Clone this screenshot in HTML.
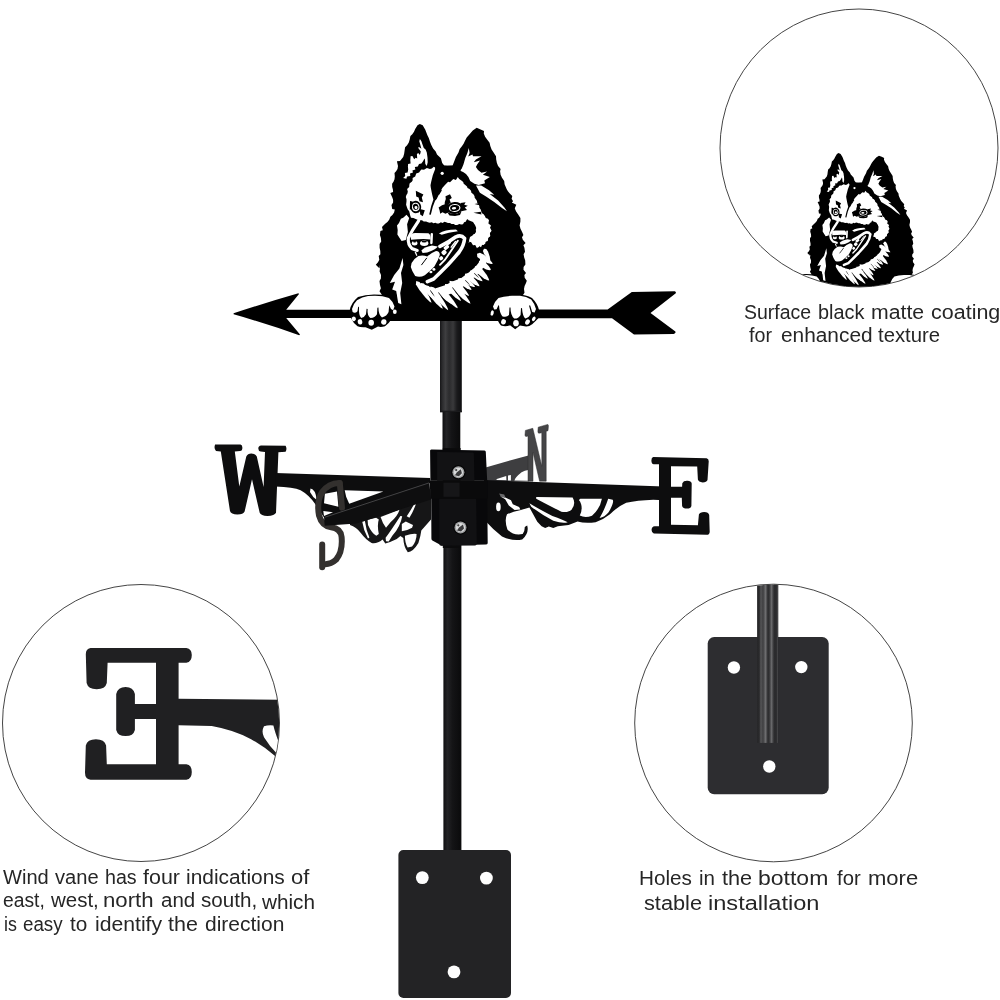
<!DOCTYPE html>
<html><head><meta charset="utf-8">
<style>
html,body{margin:0;padding:0;background:#fff;}
body{width:1000px;height:1000px;overflow:hidden;position:relative;font-family:"Liberation Sans",sans-serif;}
svg{position:absolute;left:0;top:0;}
.t{position:absolute;white-space:nowrap;color:#262626;filter:grayscale(1);font-size:20px;line-height:23px;transform-origin:0 0;}
</style></head><body>
<svg width="1000" height="1000" viewBox="0 0 1000 1000">
<defs>
<linearGradient id="pole" x1="0" x2="1" y1="0" y2="0">
<stop offset="0" stop-color="#0e0e10"/><stop offset="0.22" stop-color="#232325"/><stop offset="0.5" stop-color="#141416"/><stop offset="1" stop-color="#0a0a0b"/>
</linearGradient>
<clipPath id="cTR"><circle cx="859" cy="148" r="138.6"/></clipPath>
<clipPath id="cL"><circle cx="141" cy="723" r="138.2"/></clipPath>
<clipPath id="cR"><circle cx="773.5" cy="723" r="138.4"/></clipPath>
<linearGradient id="pole2" x1="0" x2="1" y1="0" y2="0">
<stop offset="0" stop-color="#262628"/><stop offset="0.1" stop-color="#2a2a2c"/><stop offset="0.18" stop-color="#555557"/><stop offset="0.28" stop-color="#3e3e40"/><stop offset="0.4" stop-color="#6e6e70"/><stop offset="0.5" stop-color="#303032"/><stop offset="0.56" stop-color="#2e2e30"/><stop offset="0.68" stop-color="#68686a"/><stop offset="0.8" stop-color="#2c2c2e"/><stop offset="0.91" stop-color="#2a2a2c"/><stop offset="0.95" stop-color="#4a4a4c"/><stop offset="1" stop-color="#2a2a2c"/>
</linearGradient>
<linearGradient id="poleU" x1="0" x2="1" y1="0" y2="0">
<stop offset="0" stop-color="#151517"/><stop offset="0.1" stop-color="#2a2a2c"/><stop offset="0.25" stop-color="#3e3e40"/><stop offset="0.42" stop-color="#2b2b2d"/><stop offset="0.6" stop-color="#39393b"/><stop offset="0.78" stop-color="#1a1a1c"/><stop offset="1" stop-color="#0e0e10"/>
</linearGradient>
</defs>
<g fill="none" stroke="#303030" stroke-width="0.9">
<circle cx="859" cy="148" r="139"/>
<circle cx="141" cy="723" r="138.5"/>
<circle cx="773.5" cy="723" r="138.8"/>
</g>
<g id="pole-g">
<rect x="443.4" y="540" width="18" height="312" fill="url(#pole)"/>
<rect x="440" y="320.5" width="21.8" height="91.7" fill="url(#poleU)"/>
<rect x="440" y="410.7" width="21.8" height="1.5" fill="#1a1a1c"/>
<rect x="442.5" y="412" width="17.8" height="40" fill="url(#pole)"/>
<rect x="398.4" y="850" width="112.6" height="148" rx="5" fill="#232325"/>
<circle cx="422.3" cy="877.6" r="6.4" fill="#fdfdfd"/><circle cx="486.4" cy="878.1" r="6.4" fill="#fdfdfd"/><circle cx="454" cy="971.9" r="6.4" fill="#fdfdfd"/>
</g>
<g id="N">
<path fill="#3e3e40" d="M485.6 467.4L528.4 455.4L528.4 481.4L485.6 481.4Z"/>
<path fill="#fff" d="M496.4 480L496.8 479L506.2 476.1L506.4 480.3ZM508 475.6L510.9 475L510.9 480.4L508 480.4ZM514.4 480.4Q515.6 477 521.6 472.3Q524.8 470.6 528.2 470L528.2 480.8Z"/>
<path fill="#454547" stroke="#2c2c2e" stroke-width="0.5" d="M525.4 430.4L532.8 428.3L541.8 466.2L541.8 432.8L538.9 433.2Q537.8 433.1 537.9 431.4L538.2 427.2L547.8 424.4Q548.5 424.8 548.4 426.2L548 430.7L546.2 431.2L546.2 481.2L539.6 481.2L533 452.6L533 481.2L528 481.2L528 436L526 436.6Q525 436.4 525 435Z"/>
</g>
<g id="WE" fill="#0d0d0e">
<path d="M215.1 444.4L240.5 444.4Q242.4 444.9 242.4 447.8Q242.4 450.9 240 451.1L234.8 451.6L239.3 486.6L246.3 456.4Q247.7 453.5 251.3 453.5Q255.4 453.5 256.8 456.4L263.6 487.1L265 452.1L260.7 451.6Q258.3 451.1 258.3 448.5Q258.3 445.6 261.2 445.4L285.6 445.8Q287.3 448.7 285.6 451.8L278.4 452.3L276 512.8Q274.6 515.9 267.4 515.9Q260.9 515.9 259.7 512.8L252 479.2L244.6 511.6Q243.4 514.5 237.4 514.5Q230.9 514.5 230 511.1L220.8 451.6L216 451.1Q213.6 448.2 215.1 444.4Z"/>
<path d="M275.4 472.9L430.2 478L430.2 483L324 517.6L315 503.7Q308.7 494.7 300.6 490.2Q293.4 487.5 275.4 486.6Z"/>
<path d="M484 480.1L664 486.6L664 500.2L653.2 499.7Q637 500.2 626.2 502.8Q617.2 506.9 610 514.3Q603.7 519.5 595.6 522.2Q584.8 523.5 577.6 521.5L568.6 524.9L557.8 526.2L553.3 528L548.8 526.5L545.2 528L541.6 526.2L537.3 521.8L529.4 507.4L520 510.3Q512.8 511.8 507 514.3Q504.2 520.4 507.4 529.4Q513.7 536.2 522.7 534.1Q525 531.2 524.7 526.9L527.2 525.4Q529.4 533 522.2 539.5Q512.8 541.6 502 536.6Q493 529.4 486.7 522.2L484 522.2Z"/>
<path d="M653.3 457L706.6 458.2Q709 459 708.7 461.8L707.5 480.1Q706.6 482.5 702.7 482.5Q698.4 482 697.9 479.6L697.2 466.6L671 466.2L671 486.8L682.1 486.8L682.3 483.2Q683.5 480.6 687.4 480.8Q691.2 481 691.7 483.4L691.4 506Q690.7 508.6 686.9 508.6Q683 508.6 682.1 506L681.8 497.8L671 497.8L671 524.7L697.9 525.2L698.9 514.6Q699.8 512 704.2 512Q708.5 512.2 709.2 515.1L709.7 531.9Q709.4 534.8 706.6 534.8L653.8 533.6Q651.4 532.9 651.6 529.5Q651.8 526.6 654.7 526.2L659 526.2L659 464.2L653.8 464.2Q651.4 463.8 651.4 460.4Q651.4 457.5 653.3 457Z"/>
</g>
<g fill="#fff">
<path d="M536.2 497L572.6 497.4Q576.2 503.3 571.8 509.2Q569 512.8 561.4 511.8Q547 504.6 536.2 498.8Z"/>
<path d="M580.3 498.8L601.9 498.8Q600.1 508.7 592 515.7Q584.8 518.2 579.8 515.4Q582.6 510 581.2 504.6Q580.3 501 578.9 499.9Z"/>
<path d="M608.2 498.8L612.7 499.7Q614.5 502.4 608.6 512.3Q604.6 517.2 599.6 518.1Q605 508.7 608.2 498.8Z"/>
<path d="M529.4 503.3Q538 508.7 552.4 515.9Q563.2 519.5 567.7 522.2Q563.2 524 553.3 520.8Q541.6 514.6 531.2 506.7Z"/>
<ellipse cx="498.4" cy="506.9" rx="2.3" ry="4.4"/>
<path d="M500.6 496.6L504.2 497L511 500.2L512.8 504.2L519.1 506.9L520.4 509.6L514.6 510L508.8 505.6L505.2 499.2Z"/>
<path d="M310.5 488.4Q315.4 488.8 316.8 500.1Q312.8 497.4 310 492Z"/>
<path d="M344.7 490.2L383.4 491.6L349.2 503.7Q345.6 497.4 344.7 490.2Z"/>
<path d="M324.9 493.8L337 491.6L338.4 506.8L324 503.2Z"/>
<path d="M323.3 511.1L333 512.2L324 516.1Z"/>
</g>
<path fill="#6a6a6c" d="M499.1 493.4L504.2 494.5L505.6 498.1L500.9 497Z"/>
<rect x="442.8" y="448" width="17.8" height="100" fill="#0b0b0c"/>
<g id="hub">
<path fill="#08080a" d="M430.1 450.7Q429.8 449.8 431.4 449.6L484.5 450.4Q485.8 450.7 485.8 452L487.2 480.8L430.4 480.8Z"/>
<path fill="#121214" d="M437.1 452L472.8 452.5Q473.9 452.8 473.9 453.9L474.4 480.8L437.1 480.8Z"/>
<path fill="#08080a" d="M431.2 496.8L487.2 496.8L487.7 543.2Q487.4 544.5 485.8 544.5L441.6 545.6L432.8 540.8Q431.4 540 431.4 538.4Z"/>
<path fill="#111113" d="M439.2 498.4L475.2 498.4Q476.2 498.7 476.2 500L476.8 544Q476.5 545.4 475.2 545.4L441 545.8Q439.4 545.4 439.4 544.2Z"/>
<path fill="#0a0a0b" d="M429.6 480.5L487.7 480.5L487.7 498.7L429.6 498.7Z"/>
<path fill="#161618" d="M443.5 482.7L459.5 482.7L459.5 496.8L443.5 496.8Z"/>
<circle cx="458.4" cy="472.3" r="7.2" fill="#050505"/>
<circle cx="458.4" cy="472.3" r="6" fill="#9fa0a2"/>
<circle cx="458.4" cy="472.3" r="4.6" fill="#d9dadb"/>
<path d="M456.9 472.3 l4 -3 l1 4 l-3 3 l-4 -1 z" fill="#3a3a3c"/>
<circle cx="456.2" cy="470.1" r="1.1" fill="#444"/>
<circle cx="460.5" cy="527.5" r="7.2" fill="#050505"/>
<circle cx="460.5" cy="527.5" r="6" fill="#9fa0a2"/>
<circle cx="460.5" cy="527.5" r="4.6" fill="#d9dadb"/>
<path d="M459.0 527.5 l4 -3 l1 4 l-3 3 l-4 -1 z" fill="#3a3a3c"/>
<circle cx="458.3" cy="525.3" r="1.1" fill="#444"/>
</g>
<g id="S">
<g fill="none" stroke="#33302e" stroke-width="6" stroke-linecap="round" stroke-linejoin="round">
<path d="M339.8 483L342 507.8"/>
<path d="M339.5 483Q328.5 483.4 322.2 492Q316.4 501 319 515.4Q321.8 525.8 331.2 527.3Q340.6 528.4 341.6 537Q342.9 551.4 336.2 559.5Q330.3 564.9 323.3 564"/>
<path d="M322.2 544.6L322.2 567.2"/>
</g>
<path fill="#161617" d="M350 509.7L350 525Q356.3 526.8 360.8 533.1Q366.2 540.3 371.6 543Q377 544.1 382.6 539.4L385.3 543.5L390.1 542.1L396.8 539L400.4 536L403.3 538.1Q403.6 547.1 407.8 552.2Q413 552 418.4 543Q420.7 535.8 421.3 530.4L431 519.6L431 489Z"/>
<g fill="#fff">
<path d="M362.2 521.4L364.9 521Q366.2 530.4 369.4 537.6L368 538.5Q363.5 530.4 362.2 521.4Z"/>
<path d="M367.6 519.8L376.1 517.8L378.8 519.6Q377 525 378.8 534L376.3 535.8Q371.6 533.1 368 525Z"/>
<path d="M380.6 517.1L399.5 509.7Q397.7 516 390.5 522.3L386 527.7Q382.4 523.2 380.6 517.1Z"/>
<path d="M385.6 537.8Q390.5 531.3 400.4 516L402.2 516.2Q400.4 526.8 392.3 535.8L388.7 541.4L386 541.2Z"/>
<path d="M401.8 524.1L405.8 521.4L413 525L412.1 527.7Q407.6 530.4 401.8 531.3Z"/>
<path d="M404.9 535.8Q413 533.1 416.6 534Q416.6 541.2 412.1 546.6L407.6 547.5Q404.9 543 404.9 535.8Z"/>
<path d="M406.7 516.2Q413 507 415.7 500.7L416.8 501.6Q413.9 510.6 409.4 517.8Z"/>
</g>
<path fill="#0e0e0f" d="M324 516.8 L429.2 482.2 L431 499.4 L367.6 520.1 L356.4 523.5 L324.7 525.8 Z"/>
<path fill="none" stroke="#5a5a5c" stroke-width="0.7" d="M325 517.2 L429 482.9"/>
</g>
<g id="arrow-g" fill="#000">
<path d="M233.6 313.3 Q268 302 298.4 293.3 L299 294 L286.2 309.7 L352 309.7 L352 317.9 L286.2 317.9 L300 334.6 L299.2 335.2 Q268 324 233.6 314.3 Z"/>
<path d="M536 309.6 L607.6 309.6 L631.8 292 L674.7 291.3 Q676.5 291.8 675.8 293.2 L650.5 313 L675.4 331.6 Q676 333.6 673.6 333.9 L634 334.6 L612 318.2 L536 318.2 Z"/>
</g>
<g id="dog">
<rect x="353" y="309.7" width="183" height="11.2" fill="#000"/>
<path fill="#000" d="M419.8 123.9 L422.7 125.2 L425.3 129.7 L427.3 134.9 L428.9 138.2 L429.9 141.4 L431.3 145.1 L433.1 148.6 L435.7 151.4 L437.0 154.4 L440.9 158.3 L442.2 162.9 L444.2 165.5 L447.4 165.8 L452.6 165.5 L453.9 162.2 L455.9 157.0 L458.5 152.5 L459.7 148.9 L461.7 146.6 L463.6 143.8 L465.0 140.8 L466.7 137.5 L468.9 134.9 L472.8 130.4 L476.7 127.8 L480.6 129.4 L484.0 131.1 L483.8 133.6 L485.1 136.7 L487.1 139.5 L489.6 142.7 L490.3 146.0 L491.6 149.4 L493.6 152.5 L496.0 156.2 L496.2 159.6 L496.9 162.9 L498.1 166.1 L500.6 168.9 L500.1 171.3 L500.6 174.7 L502.0 177.8 L504.2 181.1 L504.6 184.3 L506.6 188.9 L507.9 191.3 L509.8 193.4 L512.3 196.1 L511.6 198.7 L513.1 201.2 L511.8 202.5 L516.3 204.8 L515.0 207.7 L514.8 208.6 L516.1 211.6 L518.0 214.2 L520.4 218.0 L520.4 221.4 L519.6 225.4 L520.5 228.7 L522.0 231.8 L523.4 234.9 L522.0 237.2 L522.8 239.8 L525.6 243.1 L523.4 245.2 L524.4 247.8 L525.0 251.7 L523.6 254.2 L524.2 257.5 L525.2 260.6 L525.4 264.6 L523.6 267.0 L523.5 269.7 L526.0 273.0 L524.4 275.0 L524.7 277.7 L526.8 280.7 L526.0 283.0 L524.6 285.9 L524.0 289.0 L524.5 292.7 L523.0 295.0 L522.0 297.9 L522.0 301.0 L523.0 321.0 L381.0 321.0 L382.0 295.0 L379.5 291.2 L380.9 288.3 L380.0 285.0 L379.5 281.1 L380.9 278.4 L381.0 275.0 L379.6 271.5 L380.0 268.3 L379.0 265.0 L379.6 268.6 L375.8 264.7 L378.0 262.2 L379.3 259.7 L378.7 256.0 L380.4 254.2 L380.3 251.0 L379.6 247.8 L379.6 243.9 L381.2 241.4 L380.9 238.1 L379.9 235.0 L380.4 231.1 L382.8 230.2 L382.0 227.0 L385.2 223.8 L387.4 222.0 L389.2 219.8 L390.4 216.7 L392.4 215.0 L394.1 212.4 L394.8 209.4 L392.2 209.0 L391.5 205.0 L393.1 202.5 L393.1 199.8 L392.2 197.3 L390.3 193.0 L393.1 192.1 L392.9 189.5 L392.2 186.9 L392.1 183.7 L393.5 181.7 L394.5 179.2 L394.8 176.5 L394.5 173.1 L396.1 171.3 L397.5 168.9 L398.0 166.1 L396.9 161.3 L400.0 160.9 L403.2 157.0 L404.1 154.1 L404.5 151.2 L405.1 147.3 L407.1 145.3 L408.8 142.6 L409.7 139.5 L410.4 136.0 L412.3 134.3 L414.0 131.8 L415.2 129.1 L417.5 125.2 L419.8 123.9Z"/>
<path fill="#fff" d="M419.9 139.1L421.4 141.2L422.6 144.8L423.8 148.1L425.6 149.6L426.8 152.6L427.5 157.4L427.7 162.2L426.8 166.1L425.3 164L425 159.8L424.4 158.6L423.2 161L421.4 163.4L419 164L417.8 166.4L414.8 167L415.4 169.4L412.4 170.6L413 172.4L410 173.6L410.3 176L407 176.6L406.4 178.7L403.1 178.1L405.2 176L404.9 173L407.6 172.4L408.2 169.4L407.9 166.4L408.1 164L410.6 163.4L410.3 160.4L410.6 156.2L412.4 155.9L414.2 159.2L415.7 157.7L417.2 158.6L416.9 153.8L418.7 153.2L419.9 155L420.8 151.4L418.1 147.8L419 146.9L421.4 148.7L420.5 145.4L419.3 141.2Z"/>
<path fill="#fff" d="M468.8 148.1L469.6 153L468.2 156.6L472.4 154.4L473.1 156.2L481.5 156.2L475.9 159.4L473.8 162.2L480 160.4L477.3 164.3L475.9 167.1L478 169.9L481.5 172.7L487.1 171.5L482.9 174.8L489.9 176.9L484.3 180.4L485 183.2L478.7 184.9L474.4 183.8L470.2 181L468.4 177.1L466 174.1L463.1 172L460 170.8L461.8 168.4L463.5 164.2L465.3 157.9L467.4 153Z"/>
<path fill="#fff" d="M476 185.6L481.2 185.6L489 190.2L494.2 194.7L489.7 194.1L498.1 200.6L504.6 207.7L506.9 211.3L502 208L494.2 201.9L486.4 196.7L479.9 192.8Z"/>
<path fill="#fff" d="M433.8 166.7 L431.8 168.4 L429.9 168.9 L426.9 168.0 L424.0 169.7 L421.4 169.6 L420.1 171.0 L419.1 172.6 L416.2 173.5 L415.2 176.5 L412.6 178.0 L412.7 180.3 L411.8 181.7 L409.7 183.3 L409.3 185.1 L409.2 186.9 L407.1 189.1 L407.8 191.5 L407.4 193.4 L406.4 195.1 L405.8 196.9 L406.5 199.2 L406.5 201.2 L406.1 204.7 L407.1 207.7 L407.8 209.6 L409.2 211.3 L409.7 213.2 L410.2 215.5 L411.0 217.7 L413.5 218.1 L415.6 219.0 L417.5 219.7 L419.5 220.3 L422.0 220.3 L423.7 221.5 L426.1 221.4 L427.9 222.3 L429.7 222.7 L431.9 222.2 L433.3 223.3 L435.5 222.8 L437.0 223.6 L438.8 223.5 L440.9 222.3 L442.5 222.9 L444.5 221.8 L446.1 222.3 L447.9 222.9 L450.0 223.0 L451.5 223.9 L453.7 224.0 L455.2 224.9 L457.2 225.0 L459.3 224.1 L461.1 224.6 L463.0 224.2 L464.1 222.3 L465.7 221.7 L466.7 219.7 L468.2 219.0 L470.1 219.8 L472.1 220.3 L473.8 221.7 L474.6 223.4 L476.0 224.9 L476.6 227.5 L475.8 229.6 L476.0 232.0 L474.9 233.8 L473.2 234.4 L472.3 236.4 L470.8 237.2 L469.8 238.9 L469.5 241.2 L468.2 242.4 L470.1 242.1 L471.8 241.4 L473.7 243.1 L474.7 245.0 L476.7 243.7 L477.4 245.7 L478.6 247.6 L479.7 245.6 L481.2 244.7 L483.8 245.0 L484.8 242.1 L487.7 241.1 L488.0 237.9 L490.3 235.9 L489.7 232.7 L491.6 230.7 L490.0 227.8 L491.0 225.5 L488.4 223.6 L489.0 220.3 L487.9 218.8 L485.8 217.9 L485.1 216.4 L483.9 214.6 L481.7 213.1 L481.2 211.2 L480.7 209.4 L479.4 207.7 L479.3 206.0 L478.7 204.3 L477.2 202.8 L477.0 201.0 L476.0 199.5 L474.7 197.8 L474.5 195.9 L473.4 194.3 L471.4 192.7 L471.0 190.7 L469.5 189.1 L467.5 188.0 L467.0 186.4 L465.6 185.2 L463.7 183.8 L463.2 182.0 L461.7 180.7 L459.2 179.1 L457.8 177.1 L456.2 176.2 L453.9 176.2 L452.9 174.8 L450.7 174.7 L449.5 173.4 L447.5 173.2 L446.1 172.2 L444.4 171.2 L441.9 171.1 L440.7 169.7 L438.2 169.6 L437.0 168.2 L435.1 167.6 L433.8 166.7Z"/>
<path fill="#000" d="M435.1 165.7L435.1 169.3L432.8 175.2L431.2 181.7L430.5 185.2L430.8 187.8L432.1 194.3L433.4 199.5L431.2 206L429.2 214.5L430.8 214.8L432.8 206.7L435.1 200.8L436.7 198.9L439.6 193L442.5 187.8L444.5 185.6L448.1 181.7L450 182.3L453.3 179.1L455.9 180L457.8 177.1L463 174.8L457.8 165.7Z"/>
<circle cx="442.2" cy="173.3" r="1.6" fill="#fff"/>
<ellipse cx="454.7" cy="208.0" rx="8.20" ry="6.00" fill="#000" transform="rotate(-5 454.7 208.0)"/>
<ellipse cx="454.7" cy="208.0" rx="5.80" ry="3.90" fill="#fff" transform="rotate(-5 454.7 208.0)"/>
<ellipse cx="454.7" cy="208.0" rx="4.60" ry="2.90" fill="#000" transform="rotate(-5 454.7 208.0)"/>
<ellipse cx="454.0" cy="208.2" rx="2.20" ry="1.30" fill="#fff" transform="rotate(-5 454.0 208.2)"/>
<path fill="#000" d="M450 194.2L451.8 198L449.5 199.5L450.8 202.8L448.5 204.2L449.5 206.5L444.5 206.2L444.8 202L445.8 199L445.5 196.2ZM438.6 207.5L442 205.2L445 204.2L449 205.5L449 212L445.5 213.8L442.5 212.2L440.2 213.8L439.6 210.5ZM460.5 203L465.6 202.2L464.2 204.8L467.8 205.8L464.8 207.6L467 210L461.4 211.2ZM447 212L451 213.6L457 213.8L461.5 211.6L460 215L455 216L449.5 215.5ZM440.5 190L442 190.2L439 195L438 194.6Z"/>
<ellipse cx="415.7" cy="207.0" rx="5.50" ry="6.20" fill="#000" transform="rotate(-10 415.7 207.0)"/>
<ellipse cx="415.7" cy="207.0" rx="3.80" ry="4.20" fill="#fff" transform="rotate(-10 415.7 207.0)"/>
<ellipse cx="415.7" cy="206.8" rx="2.80" ry="3.10" fill="#000" transform="rotate(-10 415.7 206.8)"/>
<ellipse cx="416.0" cy="207.6" rx="1.50" ry="1.70" fill="#fff" transform="rotate(-10 416.0 207.6)"/>
<path fill="#000" d="M415.8 190.8L423.4 194.6L421.8 197.5L423 202.2L419.5 201.2L418.6 197.4L416.2 196.4ZM410 201L412.6 201.5L411.8 209.2L409.8 209.6ZM419.8 209L424.8 210.2L422.8 216.2L420.2 214.6Z"/>
<path fill="#fff" d="M406.5 214.8L403.2 217.7L400.9 218.7L399 222.9L397 225.5L397.7 230.1L397.4 234.6L399.6 237.9L401.6 241.1L405.8 240.1L407.9 232L407.1 224.2L409.2 218Z"/>
<path fill="none" stroke="#fff" stroke-width="3.2" stroke-linecap="round" d="M418.6 220.8Q412 230.2 408.3 238.2Q407.7 244.6 412 248.6L417.2 250.4"/>
<path fill="#fff" d="M410.7 236.4Q410.9 233.2 415.2 233.1L428.4 233.2Q430.7 234 430.6 239.5Q424 238.4 411 239.8Z"/>
<ellipse cx="414.6" cy="243.2" rx="2.80" ry="2.24" fill="#fff" transform="rotate(0 414.6 243.2)"/>
<ellipse cx="424.2" cy="243.2" rx="4.16" ry="2.72" fill="#fff" transform="rotate(0 424.2 243.2)"/>
<ellipse cx="414.6" cy="241.7" rx="1.76" ry="0.80" fill="#000" transform="rotate(0 414.6 241.7)"/>
<ellipse cx="424.2" cy="241.6" rx="2.72" ry="0.96" fill="#000" transform="rotate(0 424.2 241.6)"/>
<path fill="none" stroke="#fff" stroke-width="2.4" stroke-linecap="round" d="M431.8 234.2L431.4 243"/>
<path fill="#fff" d="M421.4 250.4Q424 247 432 245.4L437.8 246.4Q436 249.4 427.2 252.6L422.6 252.9Z"/>
<path fill="#fff" d="M414.6 252.2L416 251.8L417.4 255.4L416.4 256Z"/>
<path fill="#fff" d="M438.9 233.4Q444.8 229.4 456 229.4L457.9 231.2Q448 232.3 441.8 234.8Z"/>
<path fill="none" stroke="#fff" stroke-width="3.6" stroke-linecap="round" stroke-linejoin="round" d="M440 246.4Q448 242.6 456 236.8Q461.2 234.2 464.6 238.4Q464 245.4 459.2 252Q454.4 257.8 448 264.8Q440 273 433.6 279L427.4 281.6"/>
<rect x="446.32" y="241.48" width="4.64" height="3.04" rx="1.06" fill="#fff" transform="rotate(-35 448.64 243.00)"/>
<rect x="443.60" y="245.56" width="5.60" height="3.68" rx="1.29" fill="#fff" transform="rotate(-40 446.40 247.40)"/>
<rect x="441.52" y="250.20" width="4.96" height="4.48" rx="1.57" fill="#fff" transform="rotate(-42 444.00 252.44)"/>
<rect x="439.20" y="256.36" width="3.84" height="3.68" rx="1.29" fill="#fff" transform="rotate(-42 441.12 258.20)"/>
<path fill="none" stroke="#fff" stroke-width="1.9" stroke-linecap="round" d="M457.8 240.8Q452 249.6 444.8 260L440 264.8"/>
<path fill="none" stroke="#fff" stroke-width="1.4" stroke-linecap="round" d="M455.4 241.6L451.2 247.2"/>
<ellipse cx="433.9" cy="269.4" rx="1.52" ry="1.44" fill="#fff" transform="rotate(0 433.9 269.4)"/>
<ellipse cx="430.9" cy="272.0" rx="1.52" ry="1.20" fill="#fff" transform="rotate(0 430.9 272.0)"/>
<path fill="#fff" d="M411.6 263Q414 258.6 418.4 256Q423.2 254.7 427.2 256.6Q430.4 253.2 436 251Q440 251.4 439.8 255Q438.4 260.2 434.4 266.4Q429.6 271.4 424.8 275.2Q420 277.8 415.2 276Q412 271.4 410.8 267Z"/>
<path fill="none" stroke="#000" stroke-width="1" stroke-linecap="round" d="M421.6 264.8L426.6 258.2"/>
<path fill="#fff" d="M417.5 282.5L425 285.5L435 288.5L445 285.2L453 281.2L461 278.2L469 272.2L475 267.2L479.5 261.8L481 255L485 257L486.2 263.5L481.2 270.5L474.8 276.8L467.2 283.6L459.2 289.6L450.2 294L439 297L430 295.2L422 290Z"/>
<path fill="#fff" d="M416.2 281.0 L415.9 284.4 L419.4 290.1 L425.6 297.8 L429.7 301.8 L431.5 302.8 L431.0 300.9 L428.7 295.7 L423.7 287.1 L419.5 281.9Z"/>
<path fill="#fff" d="M421.0 283.0 L421.0 285.9 L424.2 290.3 L429.8 296.3 L433.5 299.3 L435.0 300.0 L434.5 298.4 L432.2 294.3 L427.6 287.6 L423.8 283.5Z"/>
<path fill="#fff" d="M425.0 285.0 L424.9 288.8 L429.0 295.0 L436.1 303.4 L440.8 307.7 L442.8 308.8 L442.2 306.7 L439.3 301.0 L433.5 291.7 L428.7 286.0Z"/>
<path fill="#fff" d="M430.5 286.5 L430.5 290.2 L434.5 296.4 L441.6 304.8 L446.3 309.1 L448.2 310.2 L447.6 308.1 L444.7 302.5 L438.9 293.2 L434.1 287.5Z"/>
<path fill="#fff" d="M436.0 288.0 L436.2 291.0 L440.0 295.2 L446.3 300.8 L450.4 303.4 L452.0 304.0 L451.3 302.4 L448.6 298.4 L443.2 292.0 L439.0 288.2Z"/>
<path fill="#fff" d="M439.0 287.5 L439.1 291.2 L443.5 296.6 L451.0 303.8 L455.8 307.4 L457.8 308.2 L457.1 306.2 L453.9 301.1 L447.7 292.9 L442.6 288.0Z"/>
<path fill="#fff" d="M445.0 284.0 L445.1 287.1 L448.9 291.6 L455.2 297.5 L459.3 300.3 L461.0 301.0 L460.4 299.3 L457.7 295.1 L452.3 288.3 L448.1 284.3Z"/>
<path fill="#fff" d="M449.5 280.8 L449.7 284.8 L454.6 290.9 L462.9 298.9 L468.3 302.8 L470.5 303.8 L469.7 301.6 L466.1 296.0 L459.1 286.8 L453.5 281.4Z"/>
<path fill="#fff" d="M455.0 282.0 L455.0 284.8 L458.2 288.6 L463.8 293.4 L467.5 295.6 L469.0 296.0 L468.5 294.5 L466.2 290.9 L461.6 285.2 L457.8 282.0Z"/>
<path fill="#fff" d="M458.0 278.5 L457.9 281.3 L461.0 284.5 L466.4 288.3 L470.0 289.8 L471.5 290.0 L471.0 288.6 L468.9 285.4 L464.4 280.5 L460.8 278.0Z"/>
<path fill="#fff" d="M462.0 278.0 L462.2 280.6 L465.2 283.1 L470.3 286.0 L473.7 287.0 L475.0 287.0 L474.5 285.8 L472.3 283.1 L467.9 279.2 L464.4 277.2Z"/>
<path fill="#fff" d="M465.0 273.8 L464.9 276.8 L468.3 280.3 L474.1 284.3 L477.9 286.0 L479.5 286.2 L479.0 284.7 L476.7 281.3 L471.9 276.0 L468.0 273.3Z"/>
<path fill="#fff" d="M470.0 270.8 L469.9 273.5 L472.7 276.4 L477.7 279.8 L481.1 281.1 L482.5 281.2 L482.1 279.9 L480.1 276.9 L476.0 272.4 L472.6 270.2Z"/>
<path fill="#fff" d="M475.0 266.2 L474.5 269.5 L477.7 273.5 L483.5 278.2 L487.5 280.2 L489.2 280.5 L488.8 278.9 L486.8 275.0 L482.2 269.0 L478.3 265.7Z"/>
<path fill="#fff" d="M479.0 261.2 L478.7 264.1 L481.3 266.7 L486.1 269.4 L489.4 270.2 L490.8 270.0 L490.5 268.7 L488.7 265.9 L484.9 261.9 L481.7 260.1Z"/>
<path fill="#fff" d="M477.0 253.8 L477.3 256.9 L481.0 259.8 L487.2 262.9 L491.2 263.9 L492.8 263.8 L492.1 262.4 L489.4 259.3 L484.1 254.8 L479.9 252.7Z"/>
<path fill="#fff" d="M484.0 248.8 L482.9 250.9 L484.1 253.9 L486.8 258.0 L488.9 260.0 L490.0 260.5 L490.2 259.4 L489.7 256.5 L488.1 251.8 L486.3 249.1Z"/>
<path fill="#000" d="M438.0 292.0 L438.4 293.1 L441.2 296.7 L442.8 298.7 L444.4 300.4 L445.0 301.0 L444.6 300.3 L443.3 298.3 L441.8 296.3 L439.0 292.7Z"/>
<path fill="#000" d="M452.0 287.0 L452.4 288.1 L455.2 291.7 L456.8 293.7 L458.4 295.4 L459.0 296.0 L458.6 295.3 L457.3 293.3 L455.8 291.3 L453.0 287.7Z"/>
<path fill="#000" d="M465.0 280.0 L465.3 280.7 L467.3 282.7 L468.4 283.8 L469.6 284.7 L470.0 285.0 L469.7 284.6 L468.8 283.4 L467.7 282.3 L465.7 280.3Z"/>
<path fill="#000" d="M474.0 273.0 L474.3 273.7 L476.3 275.7 L477.4 276.8 L478.6 277.7 L479.0 278.0 L478.7 277.6 L477.8 276.4 L476.7 275.3 L474.7 273.3Z"/>
<path fill="#000" d="M430.0 290.0 L430.3 290.9 L432.2 293.7 L433.4 295.2 L434.6 296.6 L435.0 297.0 L434.7 296.5 L433.8 294.9 L432.8 293.3 L430.7 290.5Z"/>
<path fill="#fff" d="M468 220L473 222L475 225L477.2 230L475.2 234L470 237L469 241L471.2 242.2L473 245.2L475.2 245L477 248.2L479.2 246L481 247.2L482.5 244L485 244.2L485.8 241.2L488 240.2L488.2 237.5L490 236.2L489.8 233L491.2 231.2L489.8 228L489 225.2L487 223L485 220L482 215L478 210L470 210Z"/>
<path fill="#000" d="M481 202.8L474.5 204L480.5 205.5ZM480.8 211.8L473.5 212.8L481.5 214.5Z"/>
<path fill="#fff" d="M402.6 258L399.4 268.6L394.2 275L389.8 283L395 281.8L392.2 289.4L396.2 291L398.2 303L401.4 304.2L400.2 293L402.2 283L401 273L403.4 265Z"/>
<path fill="#000" d="M349.8 310Q351 303 358 297Q365 294.5 374 294.4L381 294.8L397 294.8L397 320.5L390.5 320.5Q389 323.5 385 326.2Q381 327.5 378 326.6L371.8 329.8L365.5 327.2Q360 327.5 357.5 326.2Q353.5 323.5 351.2 318.5Q349.5 315 349.8 310Z"/>
<path fill="#fff" d="M352 309Q353 304 357 300.2Q362 296.8 368 296L375 295.8Q383 295.8 389 298Q393 301.5 394.5 306.5L393.2 310.2L391 309L389.2 305.2L388.6 312Q387 316 382 317.5Q378.5 315 378.4 307.6L377.4 307.8L377 314.2Q375 317.8 370.5 318Q367 315.5 367.6 309L366.6 308.8L366 314.2Q364.5 317.2 361.2 318Q358.5 315.5 359 307.2L358.2 306.6L357.5 311.2Q355 313.8 352.6 312Z"/>
<ellipse cx="353.8" cy="318.8" rx="2.10" ry="2.30" fill="#fff" transform="rotate(-20 353.8 318.8)"/>
<ellipse cx="360.0" cy="321.8" rx="2.30" ry="2.70" fill="#fff" transform="rotate(-10 360.0 321.8)"/>
<ellipse cx="371.2" cy="322.8" rx="2.80" ry="3.00" fill="#fff" transform="rotate(0 371.2 322.8)"/>
<ellipse cx="383.8" cy="322.0" rx="2.70" ry="2.70" fill="#fff" transform="rotate(10 383.8 322.0)"/>
<ellipse cx="394.8" cy="311.8" rx="1.90" ry="2.20" fill="#fff" transform="rotate(0 394.8 311.8)"/>
<path fill="#000" d="M490 295L518 294.5Q526 294.8 532 298Q537.5 303.5 539 310L539 317.6Q537 320 532.2 324.2Q529 326.8 526 326.6L520 325.6L515.2 329.2L510 325.2Q506 327 501 325.6Q499 323.5 497.8 320.6L490 320.6Z"/>
<path fill="#fff" d="M493 306.5Q494.5 301.5 498.5 298Q504 296 512 295.8L520 295.8Q526.5 296.5 531.2 299.6Q534.8 304 536 309L534.6 312.6L532.2 312L530.2 305.6L529 305.6L531 313Q529.5 317.5 525.2 318.6Q522.5 315.5 522 308.2L521 308L520.6 315Q518.5 318.8 514.2 318.6Q510.5 315.5 510.5 307.6L509.5 307.6L509 315Q506.5 317.8 502.2 316.2Q499.5 312.5 499 305.6L498.4 305.2L496.6 309.2L494.2 309.6Z"/>
<ellipse cx="492.2" cy="313.0" rx="1.50" ry="2.70" fill="#fff" transform="rotate(15 492.2 313.0)"/>
<ellipse cx="503.5" cy="321.8" rx="2.40" ry="2.70" fill="#fff" transform="rotate(15 503.5 321.8)"/>
<ellipse cx="516.0" cy="323.2" rx="2.80" ry="3.10" fill="#fff" transform="rotate(0 516.0 323.2)"/>
<ellipse cx="527.5" cy="322.0" rx="2.20" ry="2.80" fill="#fff" transform="rotate(30 527.5 322.0)"/>
<ellipse cx="533.8" cy="318.8" rx="1.60" ry="2.50" fill="#fff" transform="rotate(30 533.8 318.8)"/>
</g>
<g clip-path="url(#cTR)"><use href="#dog" transform="translate(540.5 65) scale(0.71)"/></g>
<g clip-path="url(#cL)" fill="#202022">
<path d="M90.5 648L186.4 648Q191.8 648.8 191.8 655Q191.8 662 186.4 662.8L178.6 662.8L178.6 698.7L284.6 699.8L284.6 765L275.7 756.4Q263.6 746.2 251.1 739.2Q233.9 729.9 211.7 726L178.6 725.2L178.6 764.2L186.4 764.2Q191.8 765 191.8 772Q191.8 779 186.4 779.8L90.5 779.8Q85 779 85 772.8L85.8 745.5Q87.3 739.2 95.9 739.2Q104.5 739.2 106.1 745.5L106.8 764.2L156 764.2L156 718.9L134.9 718.9L134.9 729.9Q133.3 736.1 125.6 736.1Q117.8 736.1 116.2 729.9L116.2 694Q117.8 687 125.6 687Q133.3 687 134.9 694L134.9 704.1L156 704.1L156 662.8L107.6 662.8L106.8 683.1Q105.3 689.3 96.7 689.3Q88.1 689.3 86.6 683.1L85.8 654.2Q85.8 648.8 90.5 648Z"/>
</g>
<g clip-path="url(#cL)"><path fill="#fff" d="M264 726.3Q267.9 725 273.4 725.5Q274.7 731.4 278.6 741.8L284.8 747.6L277 753.8Q269.2 745.7 264 737.2Q261.1 731.4 264 726.3Z"/></g>
<g clip-path="url(#cR)">
<rect x="707.7" y="637" width="121" height="157.2" rx="6.5" fill="#2d2d30"/>
<rect x="757.1" y="580" width="21.2" height="162.9" fill="url(#pole2)"/>
<circle cx="733.9" cy="667.5" r="6.2" fill="#fff"/>
<circle cx="801.3" cy="667.1" r="6.2" fill="#fff"/>
<circle cx="769.3" cy="766.5" r="6.2" fill="#fff"/>
</g>
</svg>
<div class="t" style="left:744.00px;top:301.00px;transform:scaleX(0.9738)">Surface</div>
<div class="t" style="left:817.61px;top:301.00px;transform:scaleX(0.9938)">black</div>
<div class="t" style="left:871.44px;top:301.00px;transform:scaleX(1.0614)">matte</div>
<div class="t" style="left:931.10px;top:301.00px;transform:scaleX(1.0747)">coating</div>
<div class="t" style="left:749.40px;top:324.40px;transform:scaleX(0.9840)">for</div>
<div class="t" style="left:780.50px;top:324.40px;transform:scaleX(1.0422)">enhanced</div>
<div class="t" style="left:878.00px;top:324.40px;transform:scaleX(1.0161)">texture</div>
<div class="t" style="left:2.60px;top:866.00px;transform:scaleX(1.0035)">Wind</div>
<div class="t" style="left:54.50px;top:866.00px;transform:scaleX(1.0059)">vane</div>
<div class="t" style="left:104.62px;top:866.00px;transform:scaleX(0.9825)">has</div>
<div class="t" style="left:142.60px;top:866.00px;transform:scaleX(1.0718)">four</div>
<div class="t" style="left:185.76px;top:866.00px;transform:scaleX(1.0449)">indications</div>
<div class="t" style="left:291.40px;top:866.00px;transform:scaleX(1.0979)">of</div>
<div class="t" style="left:2.60px;top:889.00px;transform:scaleX(0.9641)">east,</div>
<div class="t" style="left:51.22px;top:889.00px;transform:scaleX(1.0233)">west,</div>
<div class="t" style="left:103.49px;top:889.00px;transform:scaleX(1.1090)">north</div>
<div class="t" style="left:160.70px;top:889.00px;transform:scaleX(1.0234)">and</div>
<div class="t" style="left:201.30px;top:889.00px;transform:scaleX(1.0297)">south,</div>
<div class="t" style="left:261.74px;top:890.60px;transform:scaleX(1.0351)">which</div>
<div class="t" style="left:3.51px;top:912.70px;transform:scaleX(0.8926)">is</div>
<div class="t" style="left:23.10px;top:912.70px;transform:scaleX(0.9374)">easy</div>
<div class="t" style="left:70.30px;top:912.70px;transform:scaleX(1.0389)">to</div>
<div class="t" style="left:94.64px;top:912.70px;transform:scaleX(1.0582)">identify</div>
<div class="t" style="left:168.30px;top:912.70px;transform:scaleX(1.0730)">the</div>
<div class="t" style="left:204.60px;top:912.70px;transform:scaleX(1.0500)">direction</div>
<div class="t" style="left:638.56px;top:866.70px;transform:scaleX(1.0353)">Holes</div>
<div class="t" style="left:698.57px;top:866.70px;transform:scaleX(1.0265)">in</div>
<div class="t" style="left:721.50px;top:866.70px;transform:scaleX(1.0838)">the</div>
<div class="t" style="left:758.45px;top:866.70px;transform:scaleX(1.1499)">bottom</div>
<div class="t" style="left:837.00px;top:866.70px;transform:scaleX(1.0135)">for</div>
<div class="t" style="left:868.00px;top:866.70px;transform:scaleX(1.1003)">more</div>
<div class="t" style="left:644.10px;top:892.20px;transform:scaleX(1.0874)">stable</div>
<div class="t" style="left:708.32px;top:892.20px;transform:scaleX(1.1788)">installation</div>
</body></html>
